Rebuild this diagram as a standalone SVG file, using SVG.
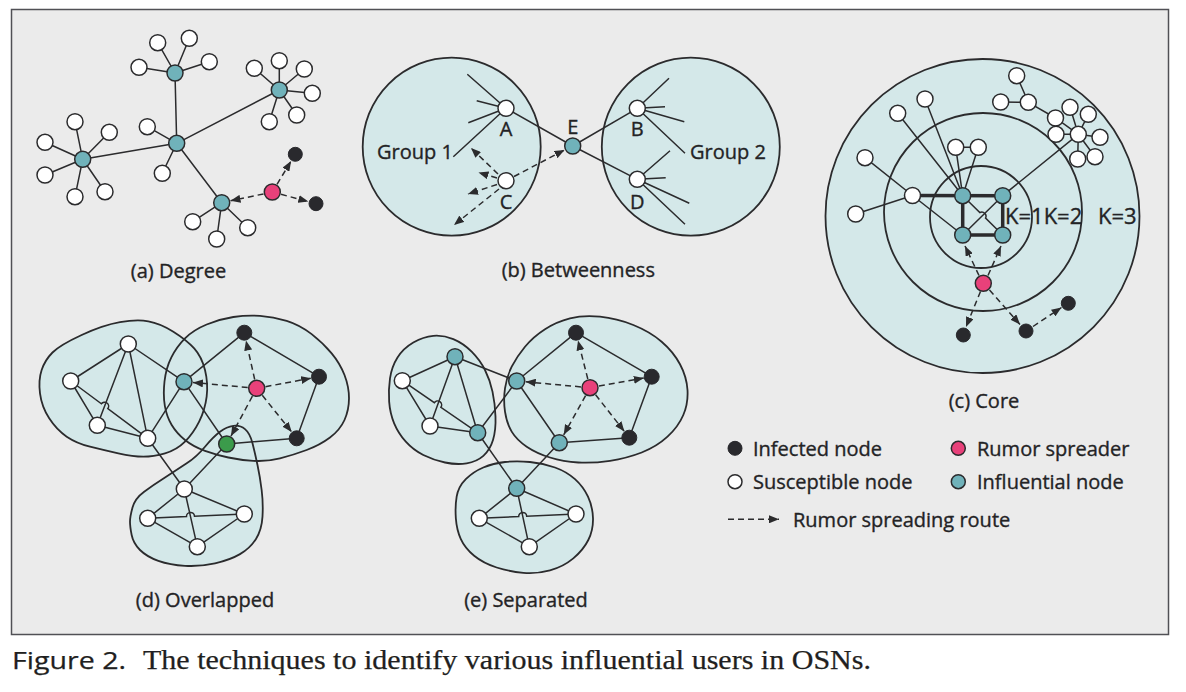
<svg xmlns="http://www.w3.org/2000/svg" width="1186" height="692" viewBox="0 0 1186 692">
<defs>
<style>
.e{stroke:#2b2b2d;stroke-width:1.5;fill:none}
.th{stroke:#2b2b2d;stroke-width:3.5;fill:none}
.d{stroke:#2b2b2d;stroke-width:1.5;fill:none;stroke-dasharray:6 4;marker-end:url(#ah)}
.rf{fill:#d4e8e9;stroke:none}
.ro{fill:none;stroke:#2b2b2d;stroke-width:1.8}
.w{fill:#fff;stroke:#2b2b2d;stroke-width:1.5}
.t{fill:#70b2ba;stroke:#2b2b2d;stroke-width:1.5}
.r{fill:#e8417a;stroke:#2b2b2d;stroke-width:1.5}
.k{fill:#29292d;stroke:#29292d;stroke-width:1}
.g{fill:#3b9b4b;stroke:#2b2b2d;stroke-width:1.5}
.lb{font-family:"Open Sans","Noto Sans",sans-serif;font-size:20px;fill:#232325;stroke:#232325;stroke-width:0.35}
.mid{text-anchor:middle}
.cap{fill:#1f1f21;stroke:#1f1f21;stroke-width:0.25}
</style>
<marker id="ah" viewBox="0 0 10 8" markerWidth="10" markerHeight="8" refX="10" refY="4" orient="auto" markerUnits="userSpaceOnUse"><path d="M0,0 L10,4 L0,8 z" fill="#2b2b2d"/></marker>
<path id="dL" d="M41.65,370 Q45,360 52.5,352.5 Q60,345 81.65,335 Q103.3,325 120,322.15 Q136.7,319.3 148.35,321.3 Q160,323.3 173.35,331.650 Q186.7,340 194.2,348.35 Q201.7,356.7 205,370 Q208.3,383.3 206.65,396.65 Q205,410 199.15,421.65 Q193.3,433.3 185,441.65 Q176.7,450 165,453.35 Q153.3,456.7 143.3,456.7 Q133.3,456.7 118.3,453.35 Q103.3,450 90,446.65 Q76.7,443.3 66.7,436.65 Q56.7,430 49.2,418.35 Q41.7,406.7 40,393.35 Q38.3,380 41.65,370 Z"/>
<path id="dR" d="M164.5,381.5 Q166,368 171.35,357.35 Q176.7,346.7 185,338.35 Q193.3,330 206.65,324.5 Q220,319 233.35,317 Q246.7,315 260,315.85 Q273.3,316.7 286.65,320.85 Q300,325 311.65,334.15 Q323.3,343.3 331.65,353.3 Q340,363.3 344.5,375 Q349,386.7 349,398.35 Q349,410 344.5,420 Q340,430 330,437.5 Q320,445 306.65,450 Q293.3,455 280,458.35 Q266.7,461.7 253.35,460.85 Q240,460 228.35,457.5 Q216.7,455 205,450.85 Q193.3,446.7 185,440 Q176.7,433.3 171.7,425 Q166.7,416.7 164.85,405.85 Q163,395 164.5,381.5 Z"/>
<path id="dB" d="M132.5,507.5 Q135,498.3 144.15,491.65 Q153.3,485 165,477.5 Q176.7,470 186.7,463.35 Q196.7,456.7 205,446.7 Q213.3,436.7 220,431.7 Q226.7,426.7 233.35,425.85 Q240,425 245,429.15 Q250,433.3 252.5,443.3 Q255,453.3 257.5,465 Q260,476.7 261.65,490 Q263.3,503.3 262.5,516.65 Q261.7,530 255.85,539.15 Q250,548.3 240,554.15 Q230,560 215,563.35 Q200,566.7 185,565.85 Q170,565 158.35,560.85 Q146.7,556.7 140,550 Q133.3,543.3 131.65,535 Q130,526.7 130,521.7 Q130,516.7 132.5,507.5 Z"/>
<path id="eL" d="M390,378.35 Q391.7,366.7 397.5,357.5 Q403.3,348.3 413.3,342.5 Q423.3,336.7 433.3,335.85 Q443.3,335 453.3,339.15 Q463.3,343.3 471.65,351.65 Q480,360 485,370 Q490,380 492.5,391.65 Q495,403.3 495.5,416.65 Q496,430 493,440 Q490,450 483.35,455.85 Q476.7,461.7 466.7,463.35 Q456.7,465 445,462.5 Q433.3,460 423.3,455 Q413.3,450 405.8,441.65 Q398.3,433.3 394.15,423.3 Q390,413.3 389.15,401.65 Q388.3,390 390,378.35 Z"/>
<path id="eR" d="M505,388.35 Q506.7,376.7 511.7,366.7 Q516.7,356.7 525,346.7 Q533.3,336.7 545,329.2 Q556.7,321.7 570,318.35 Q583.3,315 600,316.65 Q616.7,318.3 633.35,325 Q650,331.7 661.65,341.7 Q673.3,351.7 680,364.2 Q686.7,376.7 687.5,390 Q688.3,403.3 683.3,415 Q678.3,426.7 667.5,436.7 Q656.7,446.7 641.7,452.5 Q626.7,458.3 610,460.8 Q593.3,463.3 578.3,462.5 Q563.3,461.7 550,457.5 Q536.7,453.3 526.7,446.65 Q516.7,440 511.7,431.65 Q506.7,423.3 505,411.65 Q503.3,400 505,388.35 Z"/>
<path id="eB" d="M456.65,496.7 Q458.3,486.7 465.8,479.2 Q473.3,471.7 483.3,467.5 Q493.3,463.3 505,462 Q516.7,460.7 530,462 Q543.3,463.3 555,467.5 Q566.7,471.7 575,479.2 Q583.3,486.7 588,496.7 Q592.7,506.7 593,518.35 Q593.3,530 588.3,540 Q583.3,550 573.3,558.35 Q563.3,566.7 550,570.35 Q536.7,574 523.35,572.85 Q510,571.7 496.65,567.5 Q483.3,563.3 474.15,555.8 Q465,548.3 460.85,539.15 Q456.7,530 455.85,518.35 Q455,506.7 456.65,496.7 Z"/>
</defs>

<rect width="1186" height="692" fill="#ffffff"/>
<rect x="11.5" y="9.5" width="1157" height="625" fill="#ebebeb" stroke="#505055" stroke-width="1.5"/>

<!-- ===== Regions ===== -->
<g id="regions">
  <circle class="rf" cx="451.7" cy="146.7" r="89"/><circle class="ro" cx="451.7" cy="146.7" r="89"/>
  <circle class="rf" cx="690.8" cy="146.7" r="89"/><circle class="ro" cx="690.8" cy="146.7" r="89"/>
  <circle class="rf" cx="982.5" cy="216" r="157"/><circle class="ro" cx="982.5" cy="216" r="157"/>
  <circle class="ro" cx="983" cy="212" r="99"/>
  <circle class="ro" cx="981" cy="217" r="51"/>
  <use href="#dL" class="rf"/><use href="#dR" class="rf"/><use href="#dB" class="rf"/>
  <use href="#dL" class="ro"/><use href="#dR" class="ro"/><use href="#dB" class="ro"/>
  <use href="#eL" class="rf"/><use href="#eR" class="rf"/><use href="#eB" class="rf"/>
  <use href="#eL" class="ro"/><use href="#eR" class="ro"/><use href="#eB" class="ro"/>
</g>

<!-- ===== Connectors ===== -->
<g id="connectors">
  <!-- (a) -->
  <path class="e" d="M176.7,143.3 L175,73 M176.7,143.3 L279.3,90 M176.7,143.3 L82.7,159.3 M176.7,143.3 L221.7,202.7
    M175,73 L157.7,42.7 M175,73 L189.3,38.3 M175,73 L139,67.3 M175,73 L209.3,61.7
    M176.7,143.3 L147.3,126.7 M176.7,143.3 L162.3,173.3
    M279.3,90 L254.3,68.3 M279.3,90 L279.3,60.7 M279.3,90 L304.3,69 M279.3,90 L312.3,93.3 M279.3,90 L296.7,115 M279.3,90 L269.3,121.7
    M82.7,159.3 L75,121.7 M82.7,159.3 L109.3,132.3 M82.7,159.3 L45,142.3 M82.7,159.3 L45,175 M82.7,159.3 L105,191.7 M82.7,159.3 L75,196.7
    M221.7,202.7 L192.7,221.7 M221.7,202.7 L216.7,239 M221.7,202.7 L247.7,227.7"/>
  <path class="d" d="M263.5,193.9 L230.5,200.8"/>
  <path class="d" d="M277,184.3 L291.1,161.1"/>
  <path class="d" d="M281,194.3 L308.3,201.6"/>
  <!-- (b) -->
  <path class="e" d="M506,108.3 L467.3,74.3 M506,108.3 L476.7,100.7 M506,108.3 L468.3,122.7 M506,108.3 L453.3,156.7
    M506,108.3 L572.7,146 M572.7,146 L637.3,108.3 M572.7,146 L637.3,179.3
    M637.3,108.3 L669,78.3 M637.3,108.3 L665,106.7 M637.3,108.3 L684.3,121.7 M637.3,108.3 L685,153.3
    M637.3,179.3 L670,150.7 M637.3,179.3 L665.7,177.7 M637.3,179.3 L689.3,203.3 M637.3,179.3 L685,224.3"/>
  <path class="d" d="M498,174 L471,148"/>
  <path class="d" d="M497,178 L478.5,172.5"/>
  <path class="d" d="M497,184.5 L468,194"/>
  <path class="d" d="M499,189 L454,225"/>
  <path class="d" d="M514,176.5 L564.5,150"/>
  <!-- (c) -->
  <path class="th" d="M912.5,195.5 L1002.7,195.7 L1002.7,235 L962.7,235 L962.7,195.7"/>
  <path class="e" d="M962.7,235 L1002.7,195.7 M962.7,195.7 L979.85,212.55 A4.2,4.2 0 0 1 985.55,218.15 L1002.7,235
    M912.5,195.5 L962.7,235 M912.5,195.5 L865,157.7 M912.5,195.5 L855.7,214
    M962.7,195.7 L897.7,113.3 M962.7,195.7 L925,99 M962.7,195.7 L955.7,147.3 M962.7,195.7 L978.3,147.3 M955.7,147.3 L978.3,147.3
    M1002.7,195.7 L1078.3,134.3
    M1016.7,75.7 L1028.3,102.3 M1000.7,102 L1028.3,102.3 M1028.3,102.3 L1055.5,118 L1078.3,134.3
    M1078.3,134.3 L1070,107.3 M1078.3,134.3 L1088.3,114.3 M1078.3,134.3 L1056,134.3 M1078.3,134.3 L1100,137.3 M1078.3,134.3 L1077.7,159 M1078.3,134.3 L1095,156.7"/>
  <path class="d" d="M979,275.5 L965,246"/>
  <path class="d" d="M988,275.5 L1001,246"/>
  <path class="d" d="M980.5,291.5 L966,327"/>
  <path class="d" d="M989.5,290 L1020,324.5"/>
  <path class="d" d="M1033,326.5 L1061.5,307.5"/>
  <!-- (d) -->
  <path class="e" d="M128.3,344 L70.7,381 M128.3,344 L97.3,425.3 M128.3,344 L147.7,438.3 M128.3,344 L184,381.7
    M70.7,381 L97.3,425.3 M70.7,381 L101.4,403.8 A4,4 0 0 1 107.8,408.6 L147.7,438.3 M97.3,425.3 L147.7,438.3
    M147.7,438.3 L184,381.7 M184,381.7 L244.3,332.7 M244.3,332.7 L319,376.7 M319,376.7 L296.7,438.3 M296.7,438.3 L226.7,444
    M184,381.7 L226.7,444 M226.7,444 L184.3,489 M147.7,438.3 L184.3,489
    M184.3,489 L147.7,518.3 M184.3,489 L244.3,514 M184.3,489 L197.3,546.7
    M147.7,518.3 L186.5,516.6 A4,4 0 0 1 194.5,516.2 L244.3,514 M147.7,518.3 L197.3,546.7 M244.3,514 L197.3,546.7"/>
  <path class="d" d="M247.7,387.5 L193,382.5"/>
  <path class="d" d="M254.7,379.5 L246,340.5"/>
  <path class="d" d="M265.5,386.7 L311.1,378.2"/>
  <path class="d" d="M262.3,395.3 L291.7,432"/>
  <path class="d" d="M252.4,396.2 L231,436.1"/>
  <!-- (e) -->
  <path class="e" d="M455,356.7 L402.3,380.7 M455,356.7 L430,426 M455,356.7 L477.7,432.7 M455,356.7 L516.7,381
    M402.3,380.7 L430,426 M402.3,380.7 L434.3,402.7 A4,4 0 0 1 440.9,407.3 L477.7,432.7 M430,426 L477.7,432.7
    M477.7,432.7 L516.7,381 M516.7,381 L576,332.7 M576,332.7 L651.7,376.7 M651.7,376.7 L629.3,437.7 M629.3,437.7 L559.3,442.7
    M516.7,381 L559.3,442.7 M559.3,442.7 L516.7,488.3 M477.7,432.7 L516.7,488.3
    M516.7,488.3 L479.3,518.3 M516.7,488.3 L576,514 M516.7,488.3 L529.3,546.7
    M479.3,518.3 L518.7,516.6 A4,4 0 0 1 526.7,516.2 L576,514 M479.3,518.3 L529.3,546.7 M576,514 L529.3,546.7"/>
  <path class="d" d="M581,386.9 L525.7,381.8"/>
  <path class="d" d="M587.8,379 L578,340.4"/>
  <path class="d" d="M598.9,386.1 L643.8,378.1"/>
  <path class="d" d="M595.6,394.8 L624.4,431.4"/>
  <path class="d" d="M585.6,395.6 L563.7,434.8"/>
  <!-- legend -->
  <path class="d" d="M728,519.3 L779,519.3"/>
</g>

<!-- ===== Nodes (a) ===== -->
<g id="a-h0"><circle class="t" cx="176.7" cy="143.3" r="8"/></g>
<g id="a-h1"><circle class="t" cx="175" cy="73" r="8"/></g>
<g id="a-h2"><circle class="t" cx="279.3" cy="90" r="8"/></g>
<g id="a-h3"><circle class="t" cx="82.7" cy="159.3" r="8"/></g>
<g id="a-h4"><circle class="t" cx="221.7" cy="202.7" r="8"/></g>
<g id="a-w1"><circle class="w" cx="157.7" cy="42.7" r="8"/></g>
<g id="a-w2"><circle class="w" cx="189.3" cy="38.3" r="8"/></g>
<g id="a-w3"><circle class="w" cx="139" cy="67.3" r="8"/></g>
<g id="a-w4"><circle class="w" cx="209.3" cy="61.7" r="8"/></g>
<g id="a-w5"><circle class="w" cx="147.3" cy="126.7" r="8"/></g>
<g id="a-w6"><circle class="w" cx="162.3" cy="173.3" r="8"/></g>
<g id="a-w7"><circle class="w" cx="254.3" cy="68.3" r="8"/></g>
<g id="a-w8"><circle class="w" cx="279.3" cy="60.7" r="8"/></g>
<g id="a-w9"><circle class="w" cx="304.3" cy="69" r="8"/></g>
<g id="a-w10"><circle class="w" cx="312.3" cy="93.3" r="8"/></g>
<g id="a-w11"><circle class="w" cx="296.7" cy="115" r="8"/></g>
<g id="a-w12"><circle class="w" cx="269.3" cy="121.7" r="8"/></g>
<g id="a-w13"><circle class="w" cx="75" cy="121.7" r="8"/></g>
<g id="a-w14"><circle class="w" cx="109.3" cy="132.3" r="8"/></g>
<g id="a-w15"><circle class="w" cx="45" cy="142.3" r="8"/></g>
<g id="a-w16"><circle class="w" cx="45" cy="175" r="8"/></g>
<g id="a-w17"><circle class="w" cx="105" cy="191.7" r="8"/></g>
<g id="a-w18"><circle class="w" cx="75" cy="196.7" r="8"/></g>
<g id="a-w19"><circle class="w" cx="192.7" cy="221.7" r="8"/></g>
<g id="a-w20"><circle class="w" cx="216.7" cy="239" r="8"/></g>
<g id="a-w21"><circle class="w" cx="247.7" cy="227.7" r="8"/></g>
<g id="a-r"><circle class="r" cx="272.3" cy="192" r="8"/></g>
<g id="a-k1"><circle class="k" cx="295.3" cy="154.3" r="7"/></g>
<g id="a-k2"><circle class="k" cx="316" cy="203.7" r="7"/></g>
<text class="lb mid" x="178.5" y="278">(a) Degree</text>

<!-- ===== Nodes (b) ===== -->
<g id="b-A"><circle class="w" cx="506" cy="108.3" r="8"/><text class="lb mid" x="506" y="136">A</text></g>
<g id="b-C"><circle class="w" cx="506" cy="180.7" r="8"/><text class="lb mid" x="506" y="208.5">C</text></g>
<g id="b-E"><circle class="t" cx="572.7" cy="146" r="8"/><text class="lb mid" x="572.7" y="134">E</text></g>
<g id="b-B"><circle class="w" cx="637.3" cy="108.3" r="8"/><text class="lb mid" x="637.3" y="136">B</text></g>
<g id="b-D"><circle class="w" cx="637.3" cy="179.3" r="8"/><text class="lb mid" x="637.3" y="208.5">D</text></g>
<text class="lb" x="377" y="159">Group 1</text>
<text class="lb" x="690" y="159">Group 2</text>
<text class="lb mid" x="578.3" y="277">(b) Betweenness</text>

<!-- ===== Nodes (c) ===== -->
<g id="c-tl"><circle class="t" cx="962.7" cy="195.7" r="8"/></g>
<g id="c-tr"><circle class="t" cx="1002.7" cy="195.7" r="8"/></g>
<g id="c-bl"><circle class="t" cx="962.7" cy="235" r="8"/></g>
<g id="c-br"><circle class="t" cx="1002.7" cy="235" r="8"/></g>
<g id="c-w0"><circle class="w" cx="912.5" cy="195.5" r="8"/></g>
<g id="c-w1"><circle class="w" cx="865" cy="157.7" r="8"/></g>
<g id="c-w2"><circle class="w" cx="855.7" cy="214" r="8"/></g>
<g id="c-w3"><circle class="w" cx="897.7" cy="113.3" r="8"/></g>
<g id="c-w4"><circle class="w" cx="925" cy="99" r="8"/></g>
<g id="c-w5"><circle class="w" cx="955.7" cy="147.3" r="8"/></g>
<g id="c-w6"><circle class="w" cx="978.3" cy="147.3" r="8"/></g>
<g id="c-w7"><circle class="w" cx="1016.7" cy="75.7" r="8"/></g>
<g id="c-w8"><circle class="w" cx="1000.7" cy="102" r="8"/></g>
<g id="c-w9"><circle class="w" cx="1028.3" cy="102.3" r="8"/></g>
<g id="c-w10"><circle class="w" cx="1055.5" cy="118" r="8"/></g>
<g id="c-w11"><circle class="w" cx="1070" cy="107.3" r="8"/></g>
<g id="c-w12"><circle class="w" cx="1088.3" cy="114.3" r="8"/></g>
<g id="c-w13"><circle class="w" cx="1056" cy="134.3" r="8"/></g>
<g id="c-w14"><circle class="w" cx="1078.3" cy="134.3" r="8"/></g>
<g id="c-w15"><circle class="w" cx="1100" cy="137.3" r="8"/></g>
<g id="c-w16"><circle class="w" cx="1077.7" cy="159" r="8"/></g>
<g id="c-w17"><circle class="w" cx="1095" cy="156.7" r="8"/></g>
<g id="c-r"><circle class="r" cx="983.3" cy="283.3" r="8"/></g>
<g id="c-k1"><circle class="k" cx="963.3" cy="335" r="7"/></g>
<g id="c-k2"><circle class="k" cx="1026" cy="331" r="7"/></g>
<g id="c-k3"><circle class="k" cx="1068.3" cy="303.3" r="7"/></g>
<text class="lb" x="1005" y="224" style="font-size:22px" word-spacing="10">K=1K=2 K=3</text>
<text class="lb mid" x="984" y="408">(c) Core</text>

<!-- ===== Nodes (d) ===== -->
<g id="d-w1"><circle class="w" cx="128.3" cy="344" r="8"/></g>
<g id="d-w2"><circle class="w" cx="70.7" cy="381" r="8"/></g>
<g id="d-w3"><circle class="w" cx="97.3" cy="425.3" r="8"/></g>
<g id="d-w4"><circle class="w" cx="147.7" cy="438.3" r="8"/></g>
<g id="d-t"><circle class="t" cx="184" cy="381.7" r="8"/></g>
<g id="d-r"><circle class="r" cx="256.7" cy="388.3" r="8"/></g>
<g id="d-k1"><circle class="k" cx="244.3" cy="332.7" r="7.5"/></g>
<g id="d-k2"><circle class="k" cx="319" cy="376.7" r="7.5"/></g>
<g id="d-k3"><circle class="k" cx="296.7" cy="438.3" r="7.5"/></g>
<g id="d-g"><circle class="g" cx="226.7" cy="444" r="8"/></g>
<g id="d-w5"><circle class="w" cx="184.3" cy="489" r="8"/></g>
<g id="d-w6"><circle class="w" cx="147.7" cy="518.3" r="8"/></g>
<g id="d-w7"><circle class="w" cx="244.3" cy="514" r="8"/></g>
<g id="d-w8"><circle class="w" cx="197.3" cy="546.7" r="8"/></g>
<text class="lb mid" x="205" y="607">(d) Overlapped</text>

<!-- ===== Nodes (e) ===== -->
<g id="e-t1"><circle class="t" cx="455" cy="356.7" r="8"/></g>
<g id="e-w1"><circle class="w" cx="402.3" cy="380.7" r="8"/></g>
<g id="e-w2"><circle class="w" cx="430" cy="426" r="8"/></g>
<g id="e-t2"><circle class="t" cx="477.7" cy="432.7" r="8"/></g>
<g id="e-t3"><circle class="t" cx="516.7" cy="381" r="8"/></g>
<g id="e-r"><circle class="r" cx="590" cy="387.7" r="8"/></g>
<g id="e-k1"><circle class="k" cx="576" cy="332.7" r="7.5"/></g>
<g id="e-k2"><circle class="k" cx="651.7" cy="376.7" r="7.5"/></g>
<g id="e-k3"><circle class="k" cx="629.3" cy="437.7" r="7.5"/></g>
<g id="e-t4"><circle class="t" cx="559.3" cy="442.7" r="8"/></g>
<g id="e-t5"><circle class="t" cx="516.7" cy="488.3" r="8"/></g>
<g id="e-w3"><circle class="w" cx="479.3" cy="518.3" r="8"/></g>
<g id="e-w4"><circle class="w" cx="576" cy="514" r="8"/></g>
<g id="e-w5"><circle class="w" cx="529.3" cy="546.7" r="8"/></g>
<text class="lb mid" x="526" y="607">(e) Separated</text>

<!-- ===== Legend ===== -->
<g id="legend">
  <g id="lg-infected"><circle class="k" cx="735" cy="448.3" r="7"/><text class="lb" x="753" y="455.5">Infected node</text></g>
  <g id="lg-spreader"><circle class="r" cx="958.3" cy="448.3" r="7"/><text class="lb" x="977" y="455.5">Rumor spreader</text></g>
  <g id="lg-susceptible"><circle class="w" cx="735" cy="481.7" r="7"/><text class="lb" x="753" y="489">Susceptible node</text></g>
  <g id="lg-influential"><circle class="t" cx="958.3" cy="481.7" r="7"/><text class="lb" x="977" y="489">Influential node</text></g>
  <text class="lb" x="793" y="526.5">Rumor spreading route</text>
</g>

<!-- ===== Caption ===== -->
<text class="cap" x="12" y="669" font-family="'Open Sans','Noto Sans',sans-serif" font-size="24" textLength="114" lengthAdjust="spacingAndGlyphs">Figure 2.</text>
<text class="cap" x="143" y="669" font-family="'Liberation Serif','Times New Roman',serif" font-size="26.5" textLength="728" lengthAdjust="spacingAndGlyphs">The techniques to identify various influential users in OSNs.</text>
</svg>
